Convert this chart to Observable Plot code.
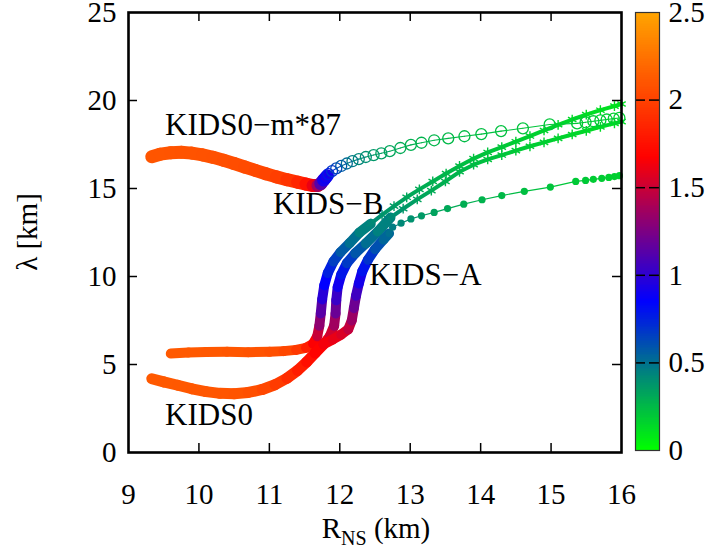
<!DOCTYPE html>
<html><head><meta charset="utf-8">
<script src="https://cdn.jsdelivr.net/npm/d3@7"></script>
<script src="https://cdn.jsdelivr.net/npm/@observablehq/plot@0.6"></script>
<style>
body{margin:0;background:#fff;}
#wrap{position:relative;width:727px;height:550px;background:#fff;}
#cb{position:absolute;left:627px;top:0;}
</style></head><body><div id="wrap"><div id="main"></div><div id="cb"></div></div>
<script>
// Each row: [R_NS (km), lambda (km), M (Msun)]
// Circle-marker curve (top)
const circBand = [
 [9.33,16.80,2.10],[9.45,16.95,2.10],[9.60,17.03,2.10],[9.75,17.06,2.09],[9.90,17.01,2.09],
 [10.05,16.91,2.08],[10.20,16.77,2.08],[10.35,16.60,2.07],[10.50,16.42,2.06],[10.65,16.22,2.05],
 [10.80,16.03,2.04],[10.95,15.84,2.02],[11.10,15.66,2.00],[11.25,15.50,1.96],[11.40,15.36,1.90],
 [11.52,15.25,1.82],[11.62,15.17,1.70],[11.69,15.17,1.52],[11.73,15.28,1.25],[11.77,15.48,1.00],
 [11.82,15.72,0.85]
];
const circPts = [
 [11.80,15.62,0.88],[11.84,15.82,0.78],[11.89,15.99,0.70],[11.95,16.14,0.63],[12.02,16.28,0.57],
 [12.10,16.42,0.52],[12.18,16.55,0.47],[12.27,16.67,0.43],[12.37,16.79,0.40],[12.48,16.90,0.37],
 [12.59,17.00,0.34],[12.71,17.12,0.32],[12.86,17.30,0.30],[13.01,17.48,0.28],[13.16,17.60,0.27],
 [13.34,17.74,0.26],[13.54,17.85,0.25],[13.77,17.97,0.24],[14.01,18.09,0.23],[14.29,18.26,0.22],
 [14.60,18.42,0.21],[14.98,18.64,0.20],[15.37,18.70,0.19],[15.49,18.76,0.19],[15.60,18.82,0.18],
 [15.70,18.87,0.18],[15.79,18.92,0.18],[15.89,18.97,0.17],[15.97,19.01,0.17]
];
// Star-marker curve A (flat branch -> left rise -> upper band)
const starABand = [
 [9.60,5.62,2.12],[9.85,5.68,2.12],[10.10,5.71,2.12],[10.40,5.72,2.11],[10.70,5.70,2.10],
 [11.00,5.72,2.08],[11.20,5.76,2.05],[11.38,5.83,2.00],[11.52,5.95,1.90],[11.62,6.18,1.74],
 [11.68,6.60,1.58],[11.71,7.20,1.40],[11.73,7.90,1.22],[11.75,8.70,1.05],[11.78,9.50,0.90],
 [11.83,10.20,0.80],[11.91,10.85,0.70],[12.01,11.38,0.61],[12.14,11.90,0.53],[12.28,12.50,0.47],
 [12.44,13.00,0.42]
];
const starAPts = [
 [12.44,13.00,0.42],[12.60,13.50,0.38],[12.77,14.00,0.35],[12.95,14.50,0.32],[13.13,14.95,0.30],
 [13.32,15.40,0.28],[13.51,15.85,0.26],[13.70,16.28,0.24],[13.90,16.70,0.22],[14.10,17.05,0.21],
 [14.30,17.35,0.20],[14.50,17.66,0.18],[14.70,17.98,0.17],[14.90,18.30,0.16],[15.10,18.62,0.15],
 [15.30,18.92,0.14],[15.50,19.20,0.13],[15.70,19.45,0.12],[15.90,19.68,0.11],[16.00,19.80,0.11]
];
// Shared low branch (dipping curve)
const dipBranch = [
 [9.33,4.19,2.12],[9.50,4.01,2.12],[9.70,3.82,2.12],[9.90,3.62,2.11],[10.10,3.46,2.11],
 [10.30,3.36,2.10],[10.50,3.34,2.10],[10.70,3.41,2.08],[10.90,3.58,2.05],[11.08,3.85,2.00],
 [11.25,4.22,1.93],[11.40,4.66,1.85],[11.53,5.14,1.78],[11.65,5.65,1.71],[11.77,6.15,1.65]
];
// Star-marker curve B (middle rise -> lower band)
const starBBand = [
 [11.77,6.15,1.65],[11.86,6.62,1.58],[11.92,7.20,1.45],[11.94,7.90,1.28],[11.95,8.65,1.10],
 [11.97,9.40,0.96],[12.02,10.10,0.84],[12.10,10.75,0.72],[12.22,11.32,0.62],[12.37,11.88,0.54],
 [12.54,12.55,0.47],[12.72,13.35,0.42]
];
const starBPts = [
 [12.72,13.35,0.42],[12.90,13.85,0.37],[13.10,14.38,0.33],[13.30,14.88,0.30],[13.50,15.40,0.28],
 [13.70,15.95,0.26],[13.90,16.35,0.24],[14.10,16.65,0.22],[14.30,16.90,0.21],[14.50,17.15,0.19],
 [14.70,17.40,0.18],[14.90,17.62,0.17],[15.10,17.85,0.16],[15.30,18.07,0.15],[15.50,18.28,0.14],
 [15.70,18.50,0.13],[15.90,18.70,0.12],[16.00,18.80,0.12]
];
// Filled-dot curve (right rise -> bottom band)
const dotBand = [
 [11.77,6.15,1.65],[11.90,6.42,1.62],[12.02,6.70,1.58],[12.12,7.00,1.52],[12.17,7.50,1.42],
 [12.20,8.20,1.28],[12.23,8.90,1.12],[12.27,9.60,0.98],[12.32,10.30,0.85],[12.40,10.95,0.74],
 [12.50,11.55,0.64],[12.62,12.10,0.56],[12.70,12.45,0.50]
];
const dotPts = [
 [12.70,12.45,0.50],[12.75,12.80,0.46],[12.87,13.03,0.42],[13.01,13.27,0.39],[13.16,13.45,0.36],
 [13.34,13.64,0.33],[13.53,13.86,0.31],[13.76,14.11,0.29],[14.02,14.36,0.27],[14.30,14.60,0.25],
 [14.62,14.84,0.23],[14.99,15.08,0.21],[15.35,15.40,0.19],[15.49,15.46,0.19],[15.60,15.52,0.18],
 [15.72,15.58,0.18],[15.82,15.63,0.17],[15.90,15.68,0.17],[15.97,15.73,0.17]
];
const labels = [
 {text:"KIDS0\u2212m*87", x:9.52, y:18.6},
 {text:"KIDS\u2212B", x:11.05, y:14.1},
 {text:"KIDS\u2212A", x:12.42, y:10.1},
 {text:"KIDS0", x:9.52, y:2.1}
];
const xTicks = [9,10,11,12,13,14,15,16];
const yTicks = [0,5,10,15,20,25];
const cbTicks = [0,0.5,1,1.5,2,2.5];
const palDomain = [0,0.45,0.85,1.67,2.5];
const palRange = ["#00ff00","#008080","#0000ff","#ff0000","#ffa500"];

const colorOpt = {type:"linear", domain:palDomain, range:palRange};
function segs(arr){ return arr.slice(1).map((p,i)=>({x1:arr[i][0],y1:arr[i][1],x2:p[0],y2:p[1],m:(arr[i][2]+p[2])/2})); }
const L = (arr, o) => Plot.link(segs(arr), {x1:"x1",y1:"y1",x2:"x2",y2:"y2",stroke:"m",strokeLinecap:"round",...o});
const X = d=>d[0], Y = d=>d[1], M = d=>d[2];

const main = Plot.plot({
  width:727, height:550, marginLeft:128, marginRight:106, marginTop:12, marginBottom:98,
  style:{fontFamily:"'Liberation Serif', 'Times New Roman', serif", fontSize:"29px", background:"white", color:"black"},
  x:{domain:[9,16], ticks:xTicks, tickSize:0, tickPadding:31, label:null, tickFormat:d=>String(d)},
  y:{domain:[0,25], ticks:yTicks, tickSize:0, tickPadding:12, label:null, tickFormat:d=>String(d)},
  color:colorOpt,
  marks:[
    L(starABand,{strokeWidth:10}),
    L(starAPts,{strokeWidth:4}),
    Plot.dot(starAPts,{x:X,y:Y,stroke:M,symbol:"asterisk",r:4.6,strokeWidth:1.4}),
    L(dipBranch,{strokeWidth:11}),
    L(starBBand,{strokeWidth:10}),
    L(starBPts,{strokeWidth:4}),
    Plot.dot(starBPts,{x:X,y:Y,stroke:M,symbol:"asterisk",r:4.6,strokeWidth:1.4}),
    L(dotBand,{strokeWidth:10}),
    L(dotPts,{strokeWidth:1.2}),
    Plot.dot(dotPts,{x:X,y:Y,fill:M,r:3.6}),
    L(circBand,{strokeWidth:13}),
    L(circPts,{strokeWidth:1.1}),
    Plot.dot(circPts,{x:X,y:Y,stroke:M,fill:"none",r:5.5,strokeWidth:1.3}),
    Plot.tickX(xTicks.slice(1,-1),{x:d=>d,insetTop:431,stroke:"black",strokeWidth:1.5}),
    Plot.tickX(xTicks.slice(1,-1),{x:d=>d,insetBottom:431,stroke:"black",strokeWidth:1.5}),
    Plot.tickY(yTicks.slice(1,-1),{y:d=>d,insetRight:484,stroke:"black",strokeWidth:1.5}),
    Plot.tickY(yTicks.slice(1,-1),{y:d=>d,insetLeft:484,stroke:"black",strokeWidth:1.5}),
    Plot.frame({stroke:"black",strokeWidth:2.6}),
    Plot.text(labels,{x:"x",y:"y",text:"text",textAnchor:"start",fontSize:31,fill:"black"})
  ]
});
document.getElementById("main").appendChild(main);

// axis titles
const svg = d3.select(main);
svg.append("text").attr("transform","translate(27,232) rotate(-90)")
  .attr("text-anchor","middle").attr("dy","0.35em")
  .style("font-family","'Liberation Serif', serif").style("font-size","29px").text("\u03bb [km]");
const xl = svg.append("text").attr("x",376).attr("y",538).attr("text-anchor","middle")
  .style("font-family","'Liberation Serif', serif").style("font-size","29px");
xl.append("tspan").text("R");
xl.append("tspan").attr("dy",7).style("font-size","20px").text("NS");
xl.append("tspan").attr("dy",-7).text(" (km)");

// colour bar
const cbSteps = d3.range(0,2.5,0.01);
const cb = Plot.plot({
  width:100, height:550, marginLeft:8, marginRight:68, marginTop:12, marginBottom:100,
  style:{fontFamily:"'Liberation Serif', 'Times New Roman', serif", fontSize:"29px", background:"transparent", color:"black"},
  x:{domain:[0,1], axis:null},
  y:{domain:[0,2.5], axis:"right", ticks:cbTicks, tickSize:0, tickPadding:9, label:null, tickFormat:d=>String(d)},
  color:colorOpt,
  marks:[
    Plot.rect(cbSteps,{x1:0,x2:1,y1:d=>d,y2:d=>d+0.012,fill:d=>d+0.005,shapeRendering:"crispEdges"}),
    Plot.tickY(cbTicks.slice(1,-1),{y:d=>d,insetRight:14,stroke:"black",strokeWidth:1.5}),
    Plot.tickY(cbTicks.slice(1,-1),{y:d=>d,insetLeft:14,stroke:"black",strokeWidth:1.5}),
    Plot.frame({stroke:"#333",strokeWidth:1.2})
  ]
});
document.getElementById("cb").appendChild(cb);
</script></body></html>
